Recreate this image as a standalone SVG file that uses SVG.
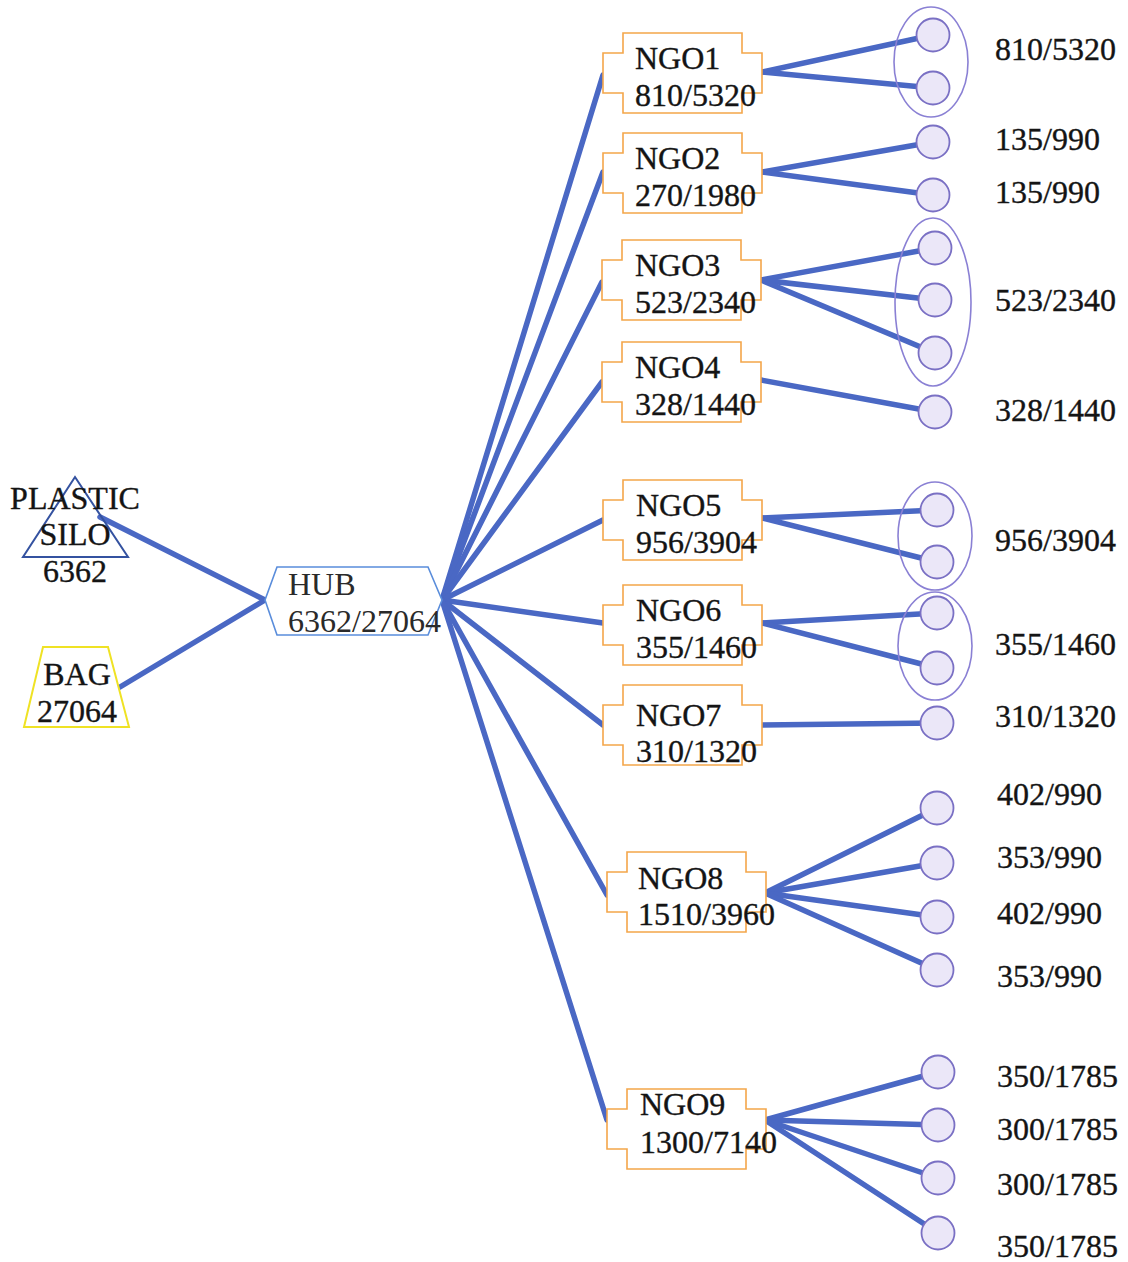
<svg xmlns="http://www.w3.org/2000/svg" width="1128" height="1262" viewBox="0 0 1128 1262">
<style>
text{font-family:"Liberation Serif","Times New Roman",serif;font-size:32px;fill:#141414;stroke:#141414;stroke-width:0.35}
.c{text-anchor:middle}
.thin{fill:#2a2a2a;stroke:none}
.edge{stroke:#4a68c4;stroke-width:5.5;stroke-linecap:round;fill:none}
.ngo{fill:#fff;stroke:#f4a64a;stroke-width:1.6}
.leaf{fill:#ebe7f8;stroke:#7a70c4;stroke-width:1.8}
.grp{fill:none;stroke:#8a80d4;stroke-width:1.6}
</style>
<defs>
<path id="ngoShape" d="M20,0 H139 V20 H159 V60 H139 V80 H20 V60 H0 V20 H20 Z"/>
</defs>
<rect width="1128" height="1262" fill="#fff"/>

<g id="connectors">
<line class="edge" x1="100" y1="517" x2="265" y2="600"/>
<line class="edge" x1="120" y1="687" x2="265" y2="600"/>
<line class="edge" x1="442" y1="600" x2="603" y2="75"/>
<line class="edge" x1="442" y1="600" x2="603" y2="172"/>
<line class="edge" x1="442" y1="600" x2="602" y2="282"/>
<line class="edge" x1="442" y1="600" x2="602" y2="382"/>
<line class="edge" x1="442" y1="600" x2="603" y2="520"/>
<line class="edge" x1="442" y1="600" x2="603" y2="623"/>
<line class="edge" x1="442" y1="600" x2="603" y2="725"/>
<line class="edge" x1="442" y1="600" x2="607" y2="895"/>
<line class="edge" x1="442" y1="600" x2="607" y2="1120"/>
<line class="edge" x1="762" y1="72" x2="933" y2="35"/>
<line class="edge" x1="762" y1="72" x2="933" y2="88"/>
<line class="edge" x1="762" y1="172" x2="933" y2="142"/>
<line class="edge" x1="762" y1="172" x2="933" y2="195"/>
<line class="edge" x1="761" y1="280" x2="935" y2="248"/>
<line class="edge" x1="761" y1="280" x2="935" y2="300"/>
<line class="edge" x1="761" y1="280" x2="935" y2="353"/>
<line class="edge" x1="761" y1="380" x2="935" y2="412"/>
<line class="edge" x1="762" y1="518" x2="937" y2="510"/>
<line class="edge" x1="762" y1="518" x2="937" y2="562"/>
<line class="edge" x1="762" y1="623" x2="937" y2="613"/>
<line class="edge" x1="762" y1="623" x2="937" y2="668"/>
<line class="edge" x1="762" y1="725" x2="937" y2="723"/>
<line class="edge" x1="765" y1="893" x2="937" y2="808"/>
<line class="edge" x1="765" y1="893" x2="937" y2="863"/>
<line class="edge" x1="765" y1="893" x2="937" y2="917"/>
<line class="edge" x1="765" y1="893" x2="937" y2="970"/>
<line class="edge" x1="765" y1="1120" x2="938" y2="1072"/>
<line class="edge" x1="765" y1="1120" x2="938" y2="1125"/>
<line class="edge" x1="765" y1="1120" x2="938" y2="1178"/>
<line class="edge" x1="765" y1="1120" x2="938" y2="1233"/>
</g>

<g id="silo">
<polygon points="75,477 128,557 23,557" fill="none" stroke="#3452a0" stroke-width="2"/>
<text class="c" x="75" y="509">PLASTIC</text>
<text class="c" x="75" y="545">SILO</text>
<text class="c" x="75" y="582">6362</text>
</g>
<g id="bag">
<polygon points="43,647 108,647 129,727 24,727" fill="#fff" stroke="#efe224" stroke-width="2"/>
<text class="c" x="77" y="685">BAG</text>
<text class="c" x="77" y="722">27064</text>
</g>
<g id="hub">
<polygon points="277,567 428,567 442,600 428,635 277,635 265,600" fill="#fff" stroke="#5a8ddb" stroke-width="1.6"/>
<text class="thin" x="288" y="595">HUB</text>
<text class="thin" x="288" y="632">6362/27064</text>
</g>

<g id="ngo1"><use href="#ngoShape" class="ngo" x="603" y="33"/><text x="635" y="69">NGO1</text><text x="635" y="106">810/5320</text></g>
<g id="ngo2"><use href="#ngoShape" class="ngo" x="603" y="133"/><text x="635" y="169">NGO2</text><text x="635" y="206">270/1980</text></g>
<g id="ngo3"><use href="#ngoShape" class="ngo" x="602" y="240"/><text x="635" y="276">NGO3</text><text x="635" y="313">523/2340</text></g>
<g id="ngo4"><use href="#ngoShape" class="ngo" x="602" y="342"/><text x="635" y="378">NGO4</text><text x="635" y="415">328/1440</text></g>
<g id="ngo5"><use href="#ngoShape" class="ngo" x="603" y="480"/><text x="636" y="516">NGO5</text><text x="636" y="553">956/3904</text></g>
<g id="ngo6"><use href="#ngoShape" class="ngo" x="603" y="585"/><text x="636" y="621">NGO6</text><text x="636" y="658">355/1460</text></g>
<g id="ngo7"><use href="#ngoShape" class="ngo" x="603" y="685"/><text x="636" y="726">NGO7</text><text x="636" y="762">310/1320</text></g>
<g id="ngo8"><use href="#ngoShape" class="ngo" x="607" y="852"/><text x="638" y="889">NGO8</text><text x="638" y="925">1510/3960</text></g>
<g id="ngo9"><use href="#ngoShape" class="ngo" x="607" y="1089"/><text x="640" y="1115">NGO9</text><text x="640" y="1153">1300/7140</text></g>

<g id="groups">
<ellipse class="grp" cx="931" cy="62" rx="37" ry="55"/>
<ellipse class="grp" cx="933" cy="302" rx="38" ry="84"/>
<ellipse class="grp" cx="935" cy="536" rx="37" ry="54"/>
<ellipse class="grp" cx="935" cy="646" rx="37" ry="54"/>
</g>

<g id="leaves">
<circle class="leaf" cx="933" cy="35" r="16.5"/>
<circle class="leaf" cx="933" cy="88" r="16.5"/>
<circle class="leaf" cx="933" cy="142" r="16.5"/>
<circle class="leaf" cx="933" cy="195" r="16.5"/>
<circle class="leaf" cx="935" cy="248" r="16.5"/>
<circle class="leaf" cx="935" cy="300" r="16.5"/>
<circle class="leaf" cx="935" cy="353" r="16.5"/>
<circle class="leaf" cx="935" cy="412" r="16.5"/>
<circle class="leaf" cx="937" cy="510" r="16.5"/>
<circle class="leaf" cx="937" cy="562" r="16.5"/>
<circle class="leaf" cx="937" cy="613" r="16.5"/>
<circle class="leaf" cx="937" cy="668" r="16.5"/>
<circle class="leaf" cx="937" cy="723" r="16.5"/>
<circle class="leaf" cx="937" cy="808" r="16.5"/>
<circle class="leaf" cx="937" cy="863" r="16.5"/>
<circle class="leaf" cx="937" cy="917" r="16.5"/>
<circle class="leaf" cx="937" cy="970" r="16.5"/>
<circle class="leaf" cx="938" cy="1072" r="16.5"/>
<circle class="leaf" cx="938" cy="1125" r="16.5"/>
<circle class="leaf" cx="938" cy="1178" r="16.5"/>
<circle class="leaf" cx="938" cy="1233" r="16.5"/>
</g>

<g id="labels">
<text x="995" y="60">810/5320</text>
<text x="995" y="150">135/990</text>
<text x="995" y="203">135/990</text>
<text x="995" y="311">523/2340</text>
<text x="995" y="421">328/1440</text>
<text x="995" y="551">956/3904</text>
<text x="995" y="655">355/1460</text>
<text x="995" y="727">310/1320</text>
<text x="997" y="805">402/990</text>
<text x="997" y="868">353/990</text>
<text x="997" y="924">402/990</text>
<text x="997" y="987">353/990</text>
<text x="997" y="1087">350/1785</text>
<text x="997" y="1140">300/1785</text>
<text x="997" y="1195">300/1785</text>
<text x="997" y="1257">350/1785</text>
</g>
</svg>
